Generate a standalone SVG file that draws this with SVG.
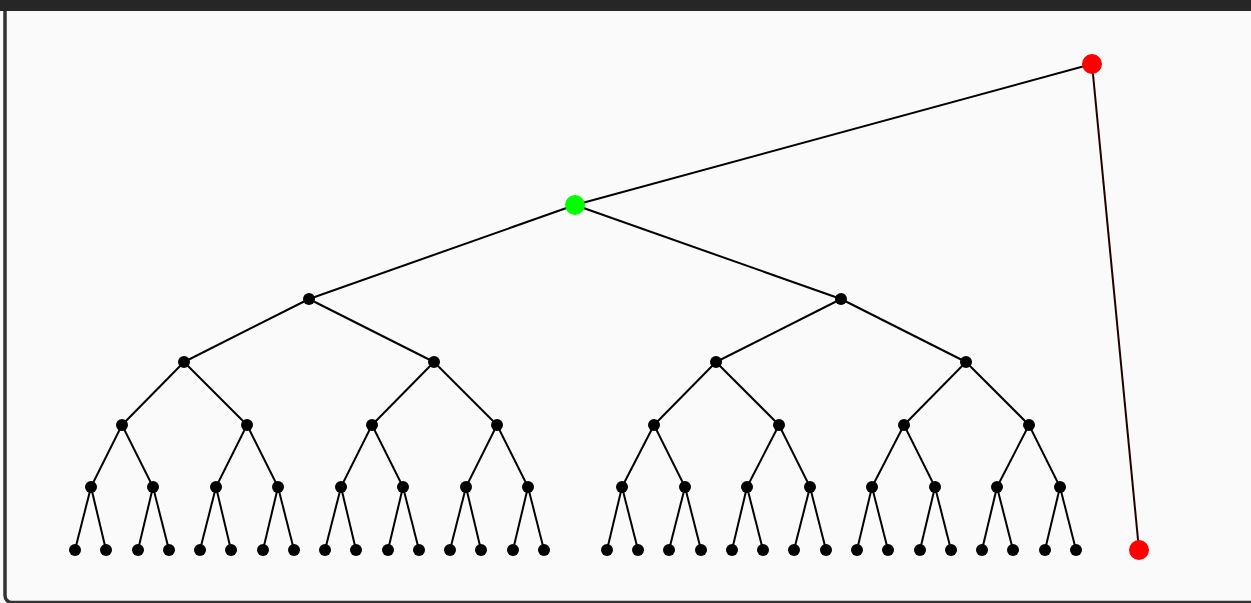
<svg xmlns="http://www.w3.org/2000/svg" width="1251" height="603" viewBox="0 0 1251 603">
<style>
.e{stroke:#000;stroke-width:2;fill:none}
.n{fill:#000}
.r{fill:#ff0000}
.g{fill:#00ff00}
</style>
<rect x="0" y="0" width="1251" height="603" fill="#fafafa"/>
<rect x="5" y="4" width="1260" height="598.5" rx="7" fill="#fafafa" stroke="#333" stroke-width="3.5"/>
<rect x="0" y="0" width="1251" height="11" fill="#262626"/>
<g id="connectors">
<line class="e" x1="1092" y1="64" x2="575" y2="205"/>
<line x1="1092" y1="64" x2="1139" y2="550" stroke="#200000" stroke-width="2"/>
<line class="e" x1="575" y1="205" x2="309" y2="299"/>
<line class="e" x1="575" y1="205" x2="841" y2="299"/>
<line class="e" x1="309" y1="299" x2="184" y2="362"/>
<line class="e" x1="309" y1="299" x2="434" y2="362"/>
<line class="e" x1="841" y1="299" x2="716" y2="362"/>
<line class="e" x1="841" y1="299" x2="966" y2="362"/>
<line class="e" x1="184" y1="362" x2="122" y2="425"/>
<line class="e" x1="184" y1="362" x2="247" y2="425"/>
<line class="e" x1="434" y1="362" x2="372" y2="425"/>
<line class="e" x1="434" y1="362" x2="497" y2="425"/>
<line class="e" x1="716" y1="362" x2="654" y2="425"/>
<line class="e" x1="716" y1="362" x2="779" y2="425"/>
<line class="e" x1="966" y1="362" x2="904" y2="425"/>
<line class="e" x1="966" y1="362" x2="1029" y2="425"/>
<line class="e" x1="122" y1="425" x2="91" y2="487"/>
<line class="e" x1="122" y1="425" x2="153" y2="487"/>
<line class="e" x1="247" y1="425" x2="216" y2="487"/>
<line class="e" x1="247" y1="425" x2="278" y2="487"/>
<line class="e" x1="372" y1="425" x2="341" y2="487"/>
<line class="e" x1="372" y1="425" x2="403" y2="487"/>
<line class="e" x1="497" y1="425" x2="466" y2="487"/>
<line class="e" x1="497" y1="425" x2="528" y2="487"/>
<line class="e" x1="654" y1="425" x2="622" y2="487"/>
<line class="e" x1="654" y1="425" x2="685" y2="487"/>
<line class="e" x1="779" y1="425" x2="747" y2="487"/>
<line class="e" x1="779" y1="425" x2="810" y2="487"/>
<line class="e" x1="904" y1="425" x2="872" y2="487"/>
<line class="e" x1="904" y1="425" x2="935" y2="487"/>
<line class="e" x1="1029" y1="425" x2="997" y2="487"/>
<line class="e" x1="1029" y1="425" x2="1060" y2="487"/>
<line class="e" x1="91" y1="487" x2="75" y2="550"/>
<line class="e" x1="91" y1="487" x2="106" y2="550"/>
<line class="e" x1="153" y1="487" x2="138" y2="550"/>
<line class="e" x1="153" y1="487" x2="169" y2="550"/>
<line class="e" x1="216" y1="487" x2="200" y2="550"/>
<line class="e" x1="216" y1="487" x2="231" y2="550"/>
<line class="e" x1="278" y1="487" x2="263" y2="550"/>
<line class="e" x1="278" y1="487" x2="294" y2="550"/>
<line class="e" x1="341" y1="487" x2="325" y2="550"/>
<line class="e" x1="341" y1="487" x2="356" y2="550"/>
<line class="e" x1="403" y1="487" x2="388" y2="550"/>
<line class="e" x1="403" y1="487" x2="419" y2="550"/>
<line class="e" x1="466" y1="487" x2="450" y2="550"/>
<line class="e" x1="466" y1="487" x2="481" y2="550"/>
<line class="e" x1="528" y1="487" x2="513" y2="550"/>
<line class="e" x1="528" y1="487" x2="544" y2="550"/>
<line class="e" x1="622" y1="487" x2="607" y2="550"/>
<line class="e" x1="622" y1="487" x2="638" y2="550"/>
<line class="e" x1="685" y1="487" x2="669" y2="550"/>
<line class="e" x1="685" y1="487" x2="701" y2="550"/>
<line class="e" x1="747" y1="487" x2="732" y2="550"/>
<line class="e" x1="747" y1="487" x2="763" y2="550"/>
<line class="e" x1="810" y1="487" x2="794" y2="550"/>
<line class="e" x1="810" y1="487" x2="826" y2="550"/>
<line class="e" x1="872" y1="487" x2="857" y2="550"/>
<line class="e" x1="872" y1="487" x2="888" y2="550"/>
<line class="e" x1="935" y1="487" x2="920" y2="550"/>
<line class="e" x1="935" y1="487" x2="951" y2="550"/>
<line class="e" x1="997" y1="487" x2="982" y2="550"/>
<line class="e" x1="997" y1="487" x2="1013" y2="550"/>
<line class="e" x1="1060" y1="487" x2="1045" y2="550"/>
<line class="e" x1="1060" y1="487" x2="1076" y2="550"/>
</g>
<g id="top"><circle class="r" cx="1092" cy="64" r="10"/></g>
<g id="bottom"><circle class="r" cx="1139" cy="550" r="10"/></g>
<g id="root"><circle class="g" cx="575" cy="205" r="10"/></g>
<g id="l1"><circle class="n" cx="309" cy="299" r="6"/><circle class="n" cx="841" cy="299" r="6"/></g>
<g id="l2"><circle class="n" cx="184" cy="362" r="6"/><circle class="n" cx="434" cy="362" r="6"/><circle class="n" cx="716" cy="362" r="6"/><circle class="n" cx="966" cy="362" r="6"/></g>
<g id="l3"><circle class="n" cx="122" cy="425" r="6"/><circle class="n" cx="247" cy="425" r="6"/><circle class="n" cx="372" cy="425" r="6"/><circle class="n" cx="497" cy="425" r="6"/><circle class="n" cx="654" cy="425" r="6"/><circle class="n" cx="779" cy="425" r="6"/><circle class="n" cx="904" cy="425" r="6"/><circle class="n" cx="1029" cy="425" r="6"/></g>
<g id="l4"><circle class="n" cx="91" cy="487" r="6"/><circle class="n" cx="153" cy="487" r="6"/><circle class="n" cx="216" cy="487" r="6"/><circle class="n" cx="278" cy="487" r="6"/><circle class="n" cx="341" cy="487" r="6"/><circle class="n" cx="403" cy="487" r="6"/><circle class="n" cx="466" cy="487" r="6"/><circle class="n" cx="528" cy="487" r="6"/><circle class="n" cx="622" cy="487" r="6"/><circle class="n" cx="685" cy="487" r="6"/><circle class="n" cx="747" cy="487" r="6"/><circle class="n" cx="810" cy="487" r="6"/><circle class="n" cx="872" cy="487" r="6"/><circle class="n" cx="935" cy="487" r="6"/><circle class="n" cx="997" cy="487" r="6"/><circle class="n" cx="1060" cy="487" r="6"/></g>
<g id="leaves"><circle class="n" cx="75" cy="550" r="6"/><circle class="n" cx="106" cy="550" r="6"/><circle class="n" cx="138" cy="550" r="6"/><circle class="n" cx="169" cy="550" r="6"/><circle class="n" cx="200" cy="550" r="6"/><circle class="n" cx="231" cy="550" r="6"/><circle class="n" cx="263" cy="550" r="6"/><circle class="n" cx="294" cy="550" r="6"/><circle class="n" cx="325" cy="550" r="6"/><circle class="n" cx="356" cy="550" r="6"/><circle class="n" cx="388" cy="550" r="6"/><circle class="n" cx="419" cy="550" r="6"/><circle class="n" cx="450" cy="550" r="6"/><circle class="n" cx="481" cy="550" r="6"/><circle class="n" cx="513" cy="550" r="6"/><circle class="n" cx="544" cy="550" r="6"/><circle class="n" cx="607" cy="550" r="6"/><circle class="n" cx="638" cy="550" r="6"/><circle class="n" cx="669" cy="550" r="6"/><circle class="n" cx="701" cy="550" r="6"/><circle class="n" cx="732" cy="550" r="6"/><circle class="n" cx="763" cy="550" r="6"/><circle class="n" cx="794" cy="550" r="6"/><circle class="n" cx="826" cy="550" r="6"/><circle class="n" cx="857" cy="550" r="6"/><circle class="n" cx="888" cy="550" r="6"/><circle class="n" cx="920" cy="550" r="6"/><circle class="n" cx="951" cy="550" r="6"/><circle class="n" cx="982" cy="550" r="6"/><circle class="n" cx="1013" cy="550" r="6"/><circle class="n" cx="1045" cy="550" r="6"/><circle class="n" cx="1076" cy="550" r="6"/></g>
</svg>
